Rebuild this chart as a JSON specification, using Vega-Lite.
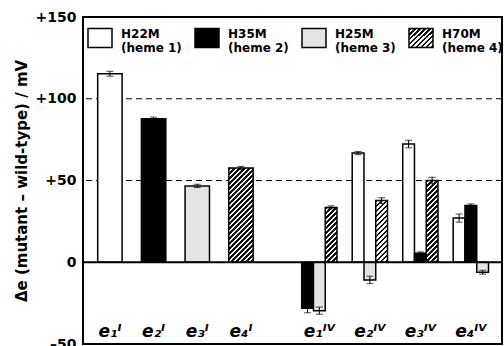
{
  "$schema": "https://vega.github.io/schema/vega-lite/v6.json",
  "autosize": {"type": "none"},
  "padding": {"left": 83, "top": 17, "right": 2, "bottom": 2},
  "width": 419,
  "height": 327,
  "params": [
    {"name": "hs", "value": [
      {"offset":0,"color":"#111"},{"offset":0.02,"color":"#111"},{"offset":0.02,"color":"#fff"},{"offset":0.04,"color":"#fff"},
      {"offset":0.04,"color":"#111"},{"offset":0.06,"color":"#111"},{"offset":0.06,"color":"#fff"},{"offset":0.08,"color":"#fff"},
      {"offset":0.08,"color":"#111"},{"offset":0.1,"color":"#111"},{"offset":0.1,"color":"#fff"},{"offset":0.12,"color":"#fff"},
      {"offset":0.12,"color":"#111"},{"offset":0.14,"color":"#111"},{"offset":0.14,"color":"#fff"},{"offset":0.16,"color":"#fff"},
      {"offset":0.16,"color":"#111"},{"offset":0.18,"color":"#111"},{"offset":0.18,"color":"#fff"},{"offset":0.2,"color":"#fff"},
      {"offset":0.2,"color":"#111"},{"offset":0.22,"color":"#111"},{"offset":0.22,"color":"#fff"},{"offset":0.24,"color":"#fff"},
      {"offset":0.24,"color":"#111"},{"offset":0.26,"color":"#111"},{"offset":0.26,"color":"#fff"},{"offset":0.28,"color":"#fff"},
      {"offset":0.28,"color":"#111"},{"offset":0.3,"color":"#111"},{"offset":0.3,"color":"#fff"},{"offset":0.32,"color":"#fff"},
      {"offset":0.32,"color":"#111"},{"offset":0.34,"color":"#111"},{"offset":0.34,"color":"#fff"},{"offset":0.36,"color":"#fff"},
      {"offset":0.36,"color":"#111"},{"offset":0.38,"color":"#111"},{"offset":0.38,"color":"#fff"},{"offset":0.4,"color":"#fff"},
      {"offset":0.4,"color":"#111"},{"offset":0.42,"color":"#111"},{"offset":0.42,"color":"#fff"},{"offset":0.44,"color":"#fff"},
      {"offset":0.44,"color":"#111"},{"offset":0.46,"color":"#111"},{"offset":0.46,"color":"#fff"},{"offset":0.48,"color":"#fff"},
      {"offset":0.48,"color":"#111"},{"offset":0.5,"color":"#111"},{"offset":0.5,"color":"#fff"},{"offset":0.52,"color":"#fff"},
      {"offset":0.52,"color":"#111"},{"offset":0.54,"color":"#111"},{"offset":0.54,"color":"#fff"},{"offset":0.56,"color":"#fff"},
      {"offset":0.56,"color":"#111"},{"offset":0.58,"color":"#111"},{"offset":0.58,"color":"#fff"},{"offset":0.6,"color":"#fff"},
      {"offset":0.6,"color":"#111"},{"offset":0.62,"color":"#111"},{"offset":0.62,"color":"#fff"},{"offset":0.64,"color":"#fff"},
      {"offset":0.64,"color":"#111"},{"offset":0.66,"color":"#111"},{"offset":0.66,"color":"#fff"},{"offset":0.68,"color":"#fff"},
      {"offset":0.68,"color":"#111"},{"offset":0.7,"color":"#111"},{"offset":0.7,"color":"#fff"},{"offset":0.72,"color":"#fff"},
      {"offset":0.72,"color":"#111"},{"offset":0.74,"color":"#111"},{"offset":0.74,"color":"#fff"},{"offset":0.76,"color":"#fff"},
      {"offset":0.76,"color":"#111"},{"offset":0.78,"color":"#111"},{"offset":0.78,"color":"#fff"},{"offset":0.8,"color":"#fff"},
      {"offset":0.8,"color":"#111"},{"offset":0.82,"color":"#111"},{"offset":0.82,"color":"#fff"},{"offset":0.84,"color":"#fff"},
      {"offset":0.84,"color":"#111"},{"offset":0.86,"color":"#111"},{"offset":0.86,"color":"#fff"},{"offset":0.88,"color":"#fff"},
      {"offset":0.88,"color":"#111"},{"offset":0.9,"color":"#111"},{"offset":0.9,"color":"#fff"},{"offset":0.92,"color":"#fff"},
      {"offset":0.92,"color":"#111"},{"offset":0.94,"color":"#111"},{"offset":0.94,"color":"#fff"},{"offset":0.96,"color":"#fff"},
      {"offset":0.96,"color":"#111"},{"offset":0.98,"color":"#111"},{"offset":0.98,"color":"#fff"},{"offset":1,"color":"#fff"}
    ]}
  ],
  "datasets": {
    "bars": [
      {"grp":"I","cat":"e₁ᴵ","mutant":"H22M (heme 1)","heme":1,"value":115.3,"lo":113.8,"hi":116.8},
      {"grp":"I","cat":"e₂ᴵ","mutant":"H35M (heme 2)","heme":2,"value":87.8,"lo":86.8,"hi":88.8},
      {"grp":"I","cat":"e₃ᴵ","mutant":"H25M (heme 3)","heme":3,"value":46.7,"lo":45.7,"hi":47.7},
      {"grp":"I","cat":"e₄ᴵ","mutant":"H70M (heme 4)","heme":4,"value":57.6,"lo":56.6,"hi":58.6},
      {"grp":"IV","cat":"e₁ᴵⱽ","mutant":"H35M (heme 2)","heme":2,"value":-28.2,"lo":-30.9,"hi":-25.5},
      {"grp":"IV","cat":"e₁ᴵⱽ","mutant":"H25M (heme 3)","heme":3,"value":-29.6,"lo":-31.8,"hi":-27.4},
      {"grp":"IV","cat":"e₁ᴵⱽ","mutant":"H70M (heme 4)","heme":4,"value":33.5,"lo":32.5,"hi":34.5},
      {"grp":"IV","cat":"e₂ᴵⱽ","mutant":"H22M (heme 1)","heme":1,"value":66.8,"lo":65.8,"hi":67.8},
      {"grp":"IV","cat":"e₂ᴵⱽ","mutant":"H25M (heme 3)","heme":3,"value":-10.8,"lo":-13.1,"hi":-8.5},
      {"grp":"IV","cat":"e₂ᴵⱽ","mutant":"H70M (heme 4)","heme":4,"value":37.7,"lo":35.9,"hi":39.5},
      {"grp":"IV","cat":"e₃ᴵⱽ","mutant":"H22M (heme 1)","heme":1,"value":72.3,"lo":70,"hi":74.6},
      {"grp":"IV","cat":"e₃ᴵⱽ","mutant":"H35M (heme 2)","heme":2,"value":5.5,"lo":4.7,"hi":6.3},
      {"grp":"IV","cat":"e₃ᴵⱽ","mutant":"H70M (heme 4)","heme":4,"value":50,"lo":48,"hi":52},
      {"grp":"IV","cat":"e₄ᴵⱽ","mutant":"H22M (heme 1)","heme":1,"value":27,"lo":24.5,"hi":29.5},
      {"grp":"IV","cat":"e₄ᴵⱽ","mutant":"H35M (heme 2)","heme":2,"value":34.7,"lo":33.7,"hi":35.7},
      {"grp":"IV","cat":"e₄ᴵⱽ","mutant":"H25M (heme 3)","heme":3,"value":-6.1,"lo":-7.3,"hi":-4.9}
    ],
    "grid": [{"g": 50}, {"g": 100}]
  },
  "config": {
    "view": {"stroke": "black", "strokeWidth": 2},
    "font": "DejaVu Sans",
    "axisX": {"domain": false, "ticks": false, "tickSize": 0, "grid": false, "labelAngle": 0, "labelFont": "DejaVu Sans", "labelFontSize": 17, "labelFontWeight": "bold", "labelFontStyle": "italic", "labelColor": "black", "labelPadding": 0},
    "axisY": {"domain": false, "ticks": false, "tickSize": 0, "grid": false, "tickCount": 5, "labelExpr": "datum.value > 0 ? '+' + datum.value : (datum.value < 0 ? '–' + (-datum.value) : '0')", "labelFont": "DejaVu Sans", "labelFontSize": 14, "labelFontWeight": "bold", "labelColor": "black", "labelPadding": 7, "titleFont": "DejaVu Sans", "titleFontSize": 15, "titleFontWeight": "bold", "titleColor": "black", "titlePadding": 6},
    "legend": {"orient": "none", "legendX": 4, "legendY": 8, "direction": "horizontal", "columns": 4, "padding": 0, "columnPadding": 10, "symbolType": "M-1,-0.79L1,-0.79L1,0.79L-1,0.79Z", "symbolSize": 576, "symbolStrokeColor": "black", "symbolStrokeWidth": 1.5, "symbolOpacity": 1, "labelFont": "DejaVu Sans", "labelFontWeight": "bold", "labelFontSize": 12, "labelColor": "black", "labelOffset": 8, "labelLimit": 0, "labelBaseline": "alphabetic"}
  },
  "layer": [
    {
      "data": {"name": "grid"},
      "mark": {"type": "rule", "color": "black", "strokeWidth": 1, "strokeDash": [6, 4]},
      "encoding": {"y": {"field": "g", "type": "quantitative", "scale": {"domain": [-50, 150], "nice": false}, "title": "Δe (mutant – wild-type) / mV"}}
    },
    {
      "data": {"name": "bars"},
      "transform": [{"filter": "datum.grp === 'I'"}],
      "encoding": {
        "x": {"field": "cat", "type": "nominal", "sort": null,
              "scale": {"domain": ["e₁ᴵ","e₂ᴵ","e₃ᴵ","e₄ᴵ"], "range": [5.07, 179.8], "paddingInner": 0.441, "paddingOuter": 0.2205},
              "axis": {"orient": "bottom", "offset": -21, "title": null}}
      },
      "layer": [
        {
          "mark": {"type": "bar", "stroke": "black", "strokeWidth": 1.5},
          "encoding": {
            "y": {"field": "value", "type": "quantitative", "title": "Δe (mutant – wild-type) / mV"},
            "fill": {"field": "mutant", "type": "nominal",
                     "scale": {"domain": ["H22M (heme 1)","H35M (heme 2)","H25M (heme 3)","H70M (heme 4)"],
                               "range": ["white", "black", "#e4e4e4", {"expr": "{gradient: 'linear', x1: 0, y1: 0, x2: 3.2, y2: 2.535, stops: hs}"}]},
                     "legend": {"title": null, "labelExpr": "[slice(datum.label, 0, 4), slice(datum.label, 5)]"},
                     "condition": {"test": "datum.heme === 4", "value": {"expr": "{gradient: 'linear', x1: 0, y1: 0, x2: 125*24.4/(24.4*24.4 + pow(datum.value*1.635, 2)), y2: 125*datum.value*1.635/(24.4*24.4 + pow(datum.value*1.635, 2)), stops: hs}"}}}
          }
        },
        {
          "mark": {"type": "rule", "color": "black", "strokeWidth": 1},
          "encoding": {"y": {"field": "lo", "type": "quantitative", "title": "Δe (mutant – wild-type) / mV"}, "y2": {"field": "hi"}}
        },
        {
          "mark": {"type": "tick", "color": "black", "thickness": 1, "size": 7},
          "encoding": {"y": {"field": "lo", "type": "quantitative", "title": "Δe (mutant – wild-type) / mV"}}
        },
        {
          "mark": {"type": "tick", "color": "black", "thickness": 1, "size": 7},
          "encoding": {"y": {"field": "hi", "type": "quantitative", "title": "Δe (mutant – wild-type) / mV"}}
        }
      ]
    },
    {
      "data": {"name": "bars"},
      "transform": [
        {"filter": "datum.grp === 'IV'"},
        {"window": [{"op": "row_number", "as": "slot"}], "groupby": ["cat"], "sort": [{"field": "heme", "order": "ascending"}]}
      ],
      "encoding": {
        "x": {"field": "cat", "type": "nominal", "sort": null,
              "scale": {"domain": ["e₁ᴵⱽ","e₂ᴵⱽ","e₃ᴵⱽ","e₄ᴵⱽ"], "range": [211.1, 413.1], "paddingInner": 0.301, "paddingOuter": 0.1505},
              "axis": {"orient": "bottom", "offset": -21, "title": null}},
        "xOffset": {"field": "slot", "type": "nominal", "scale": {"domain": [1, 2, 3], "paddingInner": 0, "paddingOuter": 0}}
      },
      "layer": [
        {
          "mark": {"type": "bar", "stroke": "black", "strokeWidth": 1.5},
          "encoding": {
            "y": {"field": "value", "type": "quantitative", "title": "Δe (mutant – wild-type) / mV"},
            "fill": {"field": "mutant", "type": "nominal",
                     "legend": {"title": null, "labelExpr": "[slice(datum.label, 0, 4), slice(datum.label, 5)]"},
                     "condition": {"test": "datum.heme === 4", "value": {"expr": "{gradient: 'linear', x1: 0, y1: 0, x2: 125*11.77/(11.77*11.77 + pow(datum.value*1.635, 2)), y2: 125*datum.value*1.635/(11.77*11.77 + pow(datum.value*1.635, 2)), stops: hs}"}}}
          }
        },
        {
          "mark": {"type": "rule", "color": "black", "strokeWidth": 1},
          "encoding": {"y": {"field": "lo", "type": "quantitative", "title": "Δe (mutant – wild-type) / mV"}, "y2": {"field": "hi"}}
        },
        {
          "mark": {"type": "tick", "color": "black", "thickness": 1, "size": 7},
          "encoding": {"y": {"field": "lo", "type": "quantitative", "title": "Δe (mutant – wild-type) / mV"}}
        },
        {
          "mark": {"type": "tick", "color": "black", "thickness": 1, "size": 7},
          "encoding": {"y": {"field": "hi", "type": "quantitative", "title": "Δe (mutant – wild-type) / mV"}}
        }
      ]
    },
    {
      "data": {"values": [{}]},
      "mark": {"type": "rule", "color": "black", "strokeWidth": 2},
      "encoding": {"y": {"datum": 0}}
    }
  ],
  "resolve": {"scale": {"x": "independent", "xOffset": "independent"}, "axis": {"x": "independent"}}
}
